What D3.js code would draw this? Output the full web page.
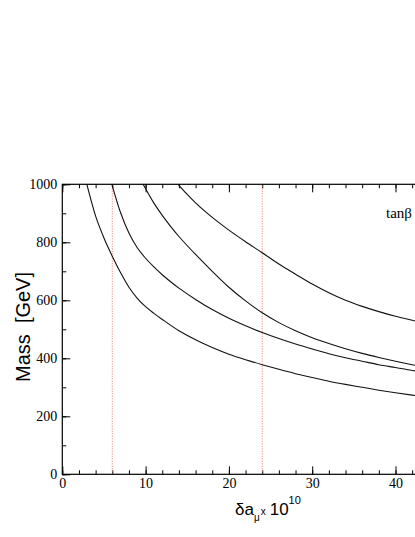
<!DOCTYPE html>
<html>
<head>
<meta charset="utf-8">
<script src="https://cdn.jsdelivr.net/npm/d3@7"></script>
<style>
  body { margin: 0; background: #fff; }
  svg { display: block; overflow: hidden; }
  .serif, .serif text { font-family: "Liberation Serif", "DejaVu Serif", serif !important; }
  .sans { font-family: "Liberation Sans", "DejaVu Sans", sans-serif; }
</style>
</head>
<body>
<svg id="chart" width="415" height="537"></svg>
<script>
// delta a_mu (x 10^10) vs mass, one array per curve
const curveA = [[2.95,1000],[3.5,940],[4,890],[5,815],[6,752],[7,695],[8,645],[9,607],[10,578],[11,555],[12,534],[14,495],[16,464],[18,437],[20,414],[22,395],[24,378],[26,362],[28,347],[30,334],[32,321],[34,310],[36,300],[38,290],[40,281],[42,273],[44,266]];
const curveB = [[5.95,1000],[7,902],[8,832],[9,781],[10,745],[11,715],[12,688],[13,664],[14,642],[16,603],[18,568],[20,538],[22,512],[24,489],[26,468],[28,449],[30,432],[32,416],[34,402],[36,390],[38,378],[40,368],[42,358],[44,350]];
const curveC = [[9.7,1000],[11,935],[12,893],[13,855],[14,820],[16,758],[18,700],[20,645],[22,598],[24,557],[26,523],[28,495],[30,471],[32,451],[34,433],[36,417],[38,403],[40,390],[42,378],[44,367]];
const curveD = [[13.9,1000],[15,965],[16,936],[17,910],[18,886],[20,842],[22,802],[24,764],[26,725],[28,690],[30,656],[32,626],[34,600],[36,579],[38,561],[40,545],[42,531],[44,518]];
const curves = [curveA, curveB, curveC, curveD];

// vertical reference lines
const refLines = [6, 24];

const xMajor = [0, 10, 20, 30, 40];
const yMajor = [0, 200, 400, 600, 800, 1000];

const svg = d3.select("#chart");
const plotLeft = 62.3, plotTop = 184.3, plotBottom = 474.3;

const x = d3.scaleLinear().domain([0, 50]).range([plotLeft, plotLeft + 50 * 8.33]);
const y = d3.scaleLinear().domain([0, 1000]).range([plotBottom, plotTop]);

function styleAxis(g) {
    g.select(".domain").remove();
    g.classed("serif", true).attr("font-size", 14);
    g.selectAll(".tick text").attr("fill", "#000");
    g.selectAll(".tick line").attr("stroke", "#000");
}

// minor ticks
svg.append("g")
    .attr("transform", `translate(0,${plotBottom})`)
    .call(d3.axisBottom(x).tickValues(d3.range(0, 49, 2)).tickSize(-4).tickFormat(""))
    .call(styleAxis);
svg.append("g")
    .attr("transform", `translate(0,${plotTop})`)
    .call(d3.axisTop(x).tickValues(d3.range(0, 49, 2)).tickSize(-4).tickFormat(""))
    .call(styleAxis);
svg.append("g")
    .attr("transform", `translate(${plotLeft},0)`)
    .call(d3.axisLeft(y).tickValues(d3.range(0, 1001, 100)).tickSize(-4).tickFormat(""))
    .call(styleAxis);

// major ticks
svg.append("g")
    .attr("transform", `translate(0,${plotBottom})`)
    .call(d3.axisBottom(x).tickValues(xMajor).tickSize(-8).tickPadding(4).tickFormat(d3.format("d")))
    .call(styleAxis);
svg.append("g")
    .attr("transform", `translate(0,${plotTop})`)
    .call(d3.axisTop(x).tickValues(xMajor).tickSize(-8).tickFormat(""))
    .call(styleAxis);
svg.append("g")
    .attr("transform", `translate(${plotLeft},0)`)
    .call(d3.axisLeft(y).tickValues(yMajor).tickSize(-8).tickPadding(5).tickFormat(d3.format("d")))
    .call(styleAxis);

// reference lines
svg.selectAll(".ref")
    .data(refLines)
    .enter()
    .append("line")
        .attr("x1", d => x(d)).attr("x2", d => x(d))
        .attr("y1", y(0)).attr("y2", y(1000))
        .attr("stroke", "#f07070")
        .attr("stroke-width", 1)
        .attr("stroke-dasharray", "1,1.5");

// curves
const line = d3.line()
    .x(d => x(d[0]))
    .y(d => y(d[1]))
    .curve(d3.curveCatmullRom.alpha(0.5));

svg.selectAll(".curve")
    .data(curves)
    .enter()
    .append("path")
        .attr("d", line)
        .attr("fill", "none")
        .attr("stroke", "#111")
        .attr("stroke-width", 1.1);

// frame
svg.append("rect")
    .attr("x", x(0)).attr("y", y(1000))
    .attr("width", x(50) - x(0)).attr("height", y(0) - y(1000))
    .attr("fill", "none")
    .attr("stroke", "#000")
    .attr("stroke-width", 1.2);

// axis titles
svg.append("text")
    .classed("sans", true)
    .attr("transform", "translate(29.5,327) rotate(-90)")
    .attr("text-anchor", "middle")
    .attr("font-size", 20)
    .style("white-space", "pre")
    .text("Mass  [GeV]");

const xt = svg.append("text")
    .classed("sans", true)
    .attr("x", 235).attr("y", 515)
    .attr("font-size", 17);
xt.append("tspan").text("δa");
xt.append("tspan").attr("font-size", 10).attr("dy", 6).text("μ");
xt.append("tspan").attr("font-size", 10).attr("dy", -6).attr("dx", 1).text("x");
xt.append("tspan").attr("dx", 4).text("10");
xt.append("tspan").attr("font-size", 11).attr("dy", -11).text("10");

svg.append("text")
    .classed("serif", true)
    .attr("x", 386).attr("y", 218)
    .attr("font-size", 15)
    .text("tanβ");
</script>
</body>
</html>
